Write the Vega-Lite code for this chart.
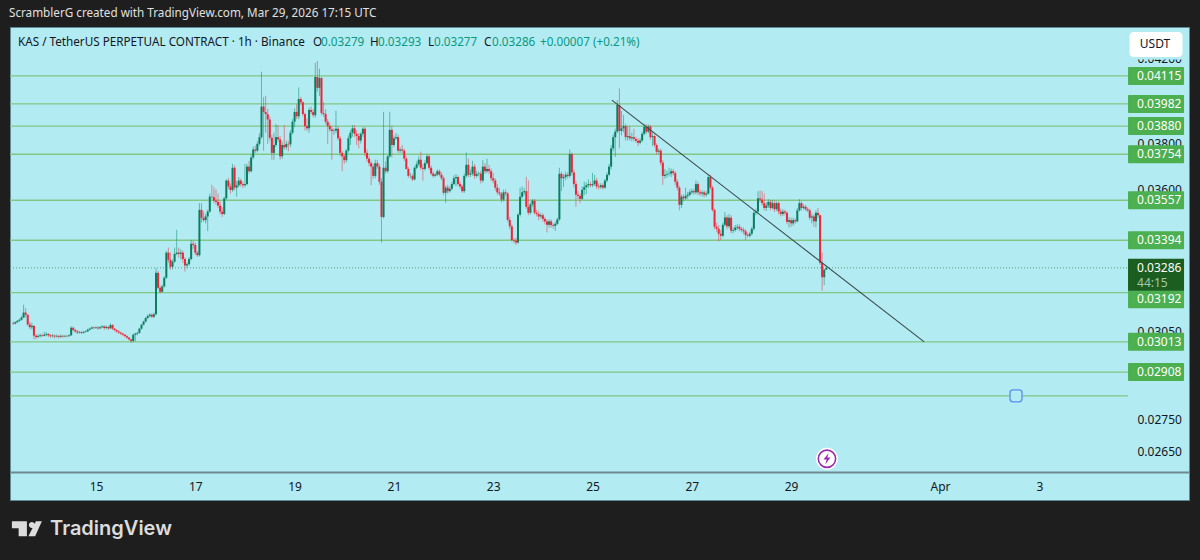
{
  "$schema": "https://vega.github.io/schema/vega-lite/v6.json",
  "description": "KAS / TetherUS perpetual contract, 1h candles with horizontal levels and a trendline",
  "width": 1179,
  "height": 473,
  "autosize": {"type": "none"},
  "padding": {"left": 10, "top": 27, "right": 11, "bottom": 60},
  "background": "#1e1e1e",
  "config": {"font": "Noto Sans", "view": {"fill": "#b2ebf2", "stroke": "#5f8a92"}},
  "title": {
    "text": "ScramblerG created with TradingView.com, Mar 29, 2026 17:15 UTC",
    "anchor": "start", "frame": "group", "color": "#e0e0e0", "fontSize": 11.7, "fontWeight": "normal", "offset": 7, "dx": -1
  },
  "datasets": {
    "candles": [
      {"t":"2026-03-13T08:00Z","o":0.0308,"h":0.03086,"l":0.03073,"c":0.03078},
      {"t":"2026-03-13T09:00Z","o":0.03078,"h":0.03086,"l":0.03075,"c":0.03083},
      {"t":"2026-03-13T10:00Z","o":0.03083,"h":0.03091,"l":0.03081,"c":0.03088},
      {"t":"2026-03-13T11:00Z","o":0.03088,"h":0.03096,"l":0.03085,"c":0.03092},
      {"t":"2026-03-13T12:00Z","o":0.03092,"h":0.03106,"l":0.03089,"c":0.031},
      {"t":"2026-03-13T13:00Z","o":0.031,"h":0.03147,"l":0.03098,"c":0.03118},
      {"t":"2026-03-13T14:00Z","o":0.03118,"h":0.03135,"l":0.031,"c":0.0311},
      {"t":"2026-03-13T15:00Z","o":0.0311,"h":0.03112,"l":0.0307,"c":0.03075},
      {"t":"2026-03-13T16:00Z","o":0.03075,"h":0.03085,"l":0.03058,"c":0.03065},
      {"t":"2026-03-13T17:00Z","o":0.03065,"h":0.03082,"l":0.03056,"c":0.0307},
      {"t":"2026-03-13T18:00Z","o":0.0307,"h":0.03072,"l":0.03022,"c":0.03035},
      {"t":"2026-03-13T19:00Z","o":0.03035,"h":0.0304,"l":0.03022,"c":0.0303},
      {"t":"2026-03-13T20:00Z","o":0.0303,"h":0.0304,"l":0.03026,"c":0.03033},
      {"t":"2026-03-13T21:00Z","o":0.03033,"h":0.03042,"l":0.03028,"c":0.03036},
      {"t":"2026-03-13T22:00Z","o":0.03036,"h":0.03042,"l":0.0303,"c":0.03034},
      {"t":"2026-03-13T23:00Z","o":0.03034,"h":0.03049,"l":0.03032,"c":0.03038},
      {"t":"2026-03-14T00:00Z","o":0.03038,"h":0.03048,"l":0.03033,"c":0.03041},
      {"t":"2026-03-14T01:00Z","o":0.03041,"h":0.03044,"l":0.0303,"c":0.03036},
      {"t":"2026-03-14T02:00Z","o":0.03036,"h":0.0304,"l":0.03026,"c":0.03033},
      {"t":"2026-03-14T03:00Z","o":0.03033,"h":0.03041,"l":0.03028,"c":0.03035},
      {"t":"2026-03-14T04:00Z","o":0.03035,"h":0.03039,"l":0.03025,"c":0.03032},
      {"t":"2026-03-14T05:00Z","o":0.03032,"h":0.03039,"l":0.03028,"c":0.03034},
      {"t":"2026-03-14T06:00Z","o":0.03034,"h":0.03038,"l":0.03024,"c":0.03031},
      {"t":"2026-03-14T07:00Z","o":0.03031,"h":0.03039,"l":0.03028,"c":0.03034},
      {"t":"2026-03-14T08:00Z","o":0.03034,"h":0.03038,"l":0.03027,"c":0.03032},
      {"t":"2026-03-14T09:00Z","o":0.03032,"h":0.03038,"l":0.03029,"c":0.03034},
      {"t":"2026-03-14T10:00Z","o":0.03034,"h":0.03037,"l":0.03029,"c":0.03033},
      {"t":"2026-03-14T11:00Z","o":0.03033,"h":0.0304,"l":0.0303,"c":0.03036},
      {"t":"2026-03-14T12:00Z","o":0.03036,"h":0.03069,"l":0.03034,"c":0.03063},
      {"t":"2026-03-14T13:00Z","o":0.03063,"h":0.03067,"l":0.0305,"c":0.03055},
      {"t":"2026-03-14T14:00Z","o":0.03055,"h":0.03059,"l":0.03045,"c":0.0305},
      {"t":"2026-03-14T15:00Z","o":0.0305,"h":0.03055,"l":0.0304,"c":0.03046},
      {"t":"2026-03-14T16:00Z","o":0.03046,"h":0.03052,"l":0.03042,"c":0.03048},
      {"t":"2026-03-14T17:00Z","o":0.03048,"h":0.03051,"l":0.03041,"c":0.03045},
      {"t":"2026-03-14T18:00Z","o":0.03045,"h":0.03052,"l":0.03042,"c":0.03048},
      {"t":"2026-03-14T19:00Z","o":0.03048,"h":0.03054,"l":0.03045,"c":0.0305},
      {"t":"2026-03-14T20:00Z","o":0.0305,"h":0.0306,"l":0.03048,"c":0.03056},
      {"t":"2026-03-14T21:00Z","o":0.03056,"h":0.03064,"l":0.03053,"c":0.0306},
      {"t":"2026-03-14T22:00Z","o":0.0306,"h":0.03068,"l":0.03058,"c":0.03064},
      {"t":"2026-03-14T23:00Z","o":0.03064,"h":0.03067,"l":0.03058,"c":0.03062},
      {"t":"2026-03-15T00:00Z","o":0.03062,"h":0.03068,"l":0.03059,"c":0.03064},
      {"t":"2026-03-15T01:00Z","o":0.03064,"h":0.03069,"l":0.03056,"c":0.03061},
      {"t":"2026-03-15T02:00Z","o":0.03061,"h":0.03069,"l":0.03058,"c":0.03065},
      {"t":"2026-03-15T03:00Z","o":0.03065,"h":0.03073,"l":0.03062,"c":0.03068},
      {"t":"2026-03-15T04:00Z","o":0.03068,"h":0.03072,"l":0.03056,"c":0.03062},
      {"t":"2026-03-15T05:00Z","o":0.03062,"h":0.03071,"l":0.03058,"c":0.03066},
      {"t":"2026-03-15T06:00Z","o":0.03066,"h":0.03069,"l":0.03055,"c":0.03061},
      {"t":"2026-03-15T07:00Z","o":0.03061,"h":0.03079,"l":0.03059,"c":0.03073},
      {"t":"2026-03-15T08:00Z","o":0.03073,"h":0.03076,"l":0.03055,"c":0.0306},
      {"t":"2026-03-15T09:00Z","o":0.0306,"h":0.03063,"l":0.0305,"c":0.03055},
      {"t":"2026-03-15T10:00Z","o":0.03055,"h":0.03058,"l":0.03045,"c":0.0305},
      {"t":"2026-03-15T11:00Z","o":0.0305,"h":0.03054,"l":0.03041,"c":0.03046},
      {"t":"2026-03-15T12:00Z","o":0.03046,"h":0.03049,"l":0.03037,"c":0.03042},
      {"t":"2026-03-15T13:00Z","o":0.03042,"h":0.03045,"l":0.03033,"c":0.03038},
      {"t":"2026-03-15T14:00Z","o":0.03038,"h":0.03041,"l":0.03029,"c":0.03033},
      {"t":"2026-03-15T15:00Z","o":0.03033,"h":0.03036,"l":0.03023,"c":0.03028},
      {"t":"2026-03-15T16:00Z","o":0.03028,"h":0.0303,"l":0.03017,"c":0.03022},
      {"t":"2026-03-15T17:00Z","o":0.03022,"h":0.03024,"l":0.03009,"c":0.03016},
      {"t":"2026-03-15T18:00Z","o":0.03016,"h":0.03042,"l":0.03011,"c":0.03038},
      {"t":"2026-03-15T19:00Z","o":0.03038,"h":0.03046,"l":0.03015,"c":0.03042},
      {"t":"2026-03-15T20:00Z","o":0.03042,"h":0.03048,"l":0.03036,"c":0.03045},
      {"t":"2026-03-15T21:00Z","o":0.03045,"h":0.03063,"l":0.03042,"c":0.0306},
      {"t":"2026-03-15T22:00Z","o":0.0306,"h":0.03077,"l":0.03056,"c":0.03074},
      {"t":"2026-03-15T23:00Z","o":0.03074,"h":0.03089,"l":0.03071,"c":0.03085},
      {"t":"2026-03-16T00:00Z","o":0.03085,"h":0.03102,"l":0.03082,"c":0.03098},
      {"t":"2026-03-16T01:00Z","o":0.03098,"h":0.03112,"l":0.03094,"c":0.03105},
      {"t":"2026-03-16T02:00Z","o":0.03105,"h":0.03116,"l":0.03101,"c":0.0311},
      {"t":"2026-03-16T03:00Z","o":0.0311,"h":0.03116,"l":0.03098,"c":0.03103},
      {"t":"2026-03-16T04:00Z","o":0.03103,"h":0.03118,"l":0.03098,"c":0.03112},
      {"t":"2026-03-16T05:00Z","o":0.03112,"h":0.03285,"l":0.03108,"c":0.03267},
      {"t":"2026-03-16T06:00Z","o":0.03267,"h":0.03275,"l":0.03205,"c":0.0321},
      {"t":"2026-03-16T07:00Z","o":0.0321,"h":0.03218,"l":0.03188,"c":0.03195},
      {"t":"2026-03-16T08:00Z","o":0.03195,"h":0.03222,"l":0.03192,"c":0.03215},
      {"t":"2026-03-16T09:00Z","o":0.03215,"h":0.03254,"l":0.03211,"c":0.03248},
      {"t":"2026-03-16T10:00Z","o":0.03248,"h":0.03352,"l":0.03244,"c":0.03345},
      {"t":"2026-03-16T11:00Z","o":0.03345,"h":0.03365,"l":0.03305,"c":0.03317},
      {"t":"2026-03-16T12:00Z","o":0.03317,"h":0.03345,"l":0.03278,"c":0.0329},
      {"t":"2026-03-16T13:00Z","o":0.0329,"h":0.03318,"l":0.0328,"c":0.0331},
      {"t":"2026-03-16T14:00Z","o":0.0331,"h":0.03365,"l":0.03305,"c":0.0334},
      {"t":"2026-03-16T15:00Z","o":0.0334,"h":0.03436,"l":0.03335,"c":0.03345},
      {"t":"2026-03-16T16:00Z","o":0.03345,"h":0.03365,"l":0.03325,"c":0.0334},
      {"t":"2026-03-16T17:00Z","o":0.0334,"h":0.03358,"l":0.03318,"c":0.03345},
      {"t":"2026-03-16T18:00Z","o":0.03345,"h":0.03352,"l":0.03305,"c":0.0332},
      {"t":"2026-03-16T19:00Z","o":0.0332,"h":0.03328,"l":0.03272,"c":0.03295},
      {"t":"2026-03-16T20:00Z","o":0.03295,"h":0.03308,"l":0.03285,"c":0.033},
      {"t":"2026-03-16T21:00Z","o":0.033,"h":0.03328,"l":0.03295,"c":0.0332},
      {"t":"2026-03-16T22:00Z","o":0.0332,"h":0.03395,"l":0.03315,"c":0.0338},
      {"t":"2026-03-16T23:00Z","o":0.0338,"h":0.03392,"l":0.0336,"c":0.03375},
      {"t":"2026-03-17T00:00Z","o":0.03375,"h":0.03385,"l":0.03335,"c":0.03345},
      {"t":"2026-03-17T01:00Z","o":0.03345,"h":0.03352,"l":0.03328,"c":0.03335},
      {"t":"2026-03-17T02:00Z","o":0.03335,"h":0.03545,"l":0.0333,"c":0.03517},
      {"t":"2026-03-17T03:00Z","o":0.03517,"h":0.03545,"l":0.03465,"c":0.03484},
      {"t":"2026-03-17T04:00Z","o":0.03484,"h":0.0351,"l":0.03468,"c":0.03475},
      {"t":"2026-03-17T05:00Z","o":0.03475,"h":0.035,"l":0.03462,"c":0.0349},
      {"t":"2026-03-17T06:00Z","o":0.0349,"h":0.03518,"l":0.0343,"c":0.0351},
      {"t":"2026-03-17T07:00Z","o":0.0351,"h":0.03585,"l":0.03505,"c":0.03572},
      {"t":"2026-03-17T08:00Z","o":0.03572,"h":0.03622,"l":0.03562,"c":0.0357},
      {"t":"2026-03-17T09:00Z","o":0.0357,"h":0.03612,"l":0.03545,"c":0.03555},
      {"t":"2026-03-17T10:00Z","o":0.03555,"h":0.03602,"l":0.03538,"c":0.0355},
      {"t":"2026-03-17T11:00Z","o":0.0355,"h":0.03585,"l":0.03525,"c":0.03535},
      {"t":"2026-03-17T12:00Z","o":0.03535,"h":0.03552,"l":0.03498,"c":0.0351},
      {"t":"2026-03-17T13:00Z","o":0.0351,"h":0.03528,"l":0.03488,"c":0.035},
      {"t":"2026-03-17T14:00Z","o":0.035,"h":0.03572,"l":0.03495,"c":0.03565},
      {"t":"2026-03-17T15:00Z","o":0.03565,"h":0.03645,"l":0.03558,"c":0.0364},
      {"t":"2026-03-17T16:00Z","o":0.0364,"h":0.03652,"l":0.03605,"c":0.03615},
      {"t":"2026-03-17T17:00Z","o":0.03615,"h":0.03628,"l":0.03585,"c":0.036},
      {"t":"2026-03-17T18:00Z","o":0.036,"h":0.03712,"l":0.03592,"c":0.03695},
      {"t":"2026-03-17T19:00Z","o":0.03695,"h":0.03705,"l":0.03598,"c":0.0361},
      {"t":"2026-03-17T20:00Z","o":0.0361,"h":0.03638,"l":0.03572,"c":0.0362},
      {"t":"2026-03-17T21:00Z","o":0.0362,"h":0.03655,"l":0.03612,"c":0.0364},
      {"t":"2026-03-17T22:00Z","o":0.0364,"h":0.03648,"l":0.03615,"c":0.03625},
      {"t":"2026-03-17T23:00Z","o":0.03625,"h":0.03635,"l":0.03608,"c":0.0362},
      {"t":"2026-03-18T00:00Z","o":0.0362,"h":0.03712,"l":0.03612,"c":0.03625},
      {"t":"2026-03-18T01:00Z","o":0.03625,"h":0.03712,"l":0.0362,"c":0.037},
      {"t":"2026-03-18T02:00Z","o":0.037,"h":0.03725,"l":0.0367,"c":0.0368},
      {"t":"2026-03-18T03:00Z","o":0.0368,"h":0.03752,"l":0.03675,"c":0.0374},
      {"t":"2026-03-18T04:00Z","o":0.0374,"h":0.03788,"l":0.03732,"c":0.03775},
      {"t":"2026-03-18T05:00Z","o":0.03775,"h":0.03792,"l":0.0376,"c":0.0377},
      {"t":"2026-03-18T06:00Z","o":0.0377,"h":0.03812,"l":0.03762,"c":0.038},
      {"t":"2026-03-18T07:00Z","o":0.038,"h":0.03848,"l":0.03792,"c":0.0383},
      {"t":"2026-03-18T08:00Z","o":0.0383,"h":0.04135,"l":0.03822,"c":0.0397},
      {"t":"2026-03-18T09:00Z","o":0.0397,"h":0.04015,"l":0.0377,"c":0.03945},
      {"t":"2026-03-18T10:00Z","o":0.03945,"h":0.0402,"l":0.0385,"c":0.03935},
      {"t":"2026-03-18T11:00Z","o":0.03935,"h":0.0396,"l":0.038,"c":0.0391},
      {"t":"2026-03-18T12:00Z","o":0.0391,"h":0.03925,"l":0.03815,"c":0.03827},
      {"t":"2026-03-18T13:00Z","o":0.03827,"h":0.0384,"l":0.0373,"c":0.0376},
      {"t":"2026-03-18T14:00Z","o":0.0376,"h":0.0385,"l":0.0373,"c":0.03795},
      {"t":"2026-03-18T15:00Z","o":0.03795,"h":0.0389,"l":0.03785,"c":0.0383},
      {"t":"2026-03-18T16:00Z","o":0.0383,"h":0.03885,"l":0.03808,"c":0.0382},
      {"t":"2026-03-18T17:00Z","o":0.0382,"h":0.03835,"l":0.0373,"c":0.03745},
      {"t":"2026-03-18T18:00Z","o":0.03745,"h":0.0381,"l":0.03735,"c":0.03795},
      {"t":"2026-03-18T19:00Z","o":0.03795,"h":0.03885,"l":0.03775,"c":0.03785},
      {"t":"2026-03-18T20:00Z","o":0.03785,"h":0.03815,"l":0.03775,"c":0.038},
      {"t":"2026-03-18T21:00Z","o":0.038,"h":0.03812,"l":0.03768,"c":0.03798},
      {"t":"2026-03-18T22:00Z","o":0.03798,"h":0.03862,"l":0.03785,"c":0.0385},
      {"t":"2026-03-18T23:00Z","o":0.0385,"h":0.03912,"l":0.03842,"c":0.039},
      {"t":"2026-03-19T00:00Z","o":0.039,"h":0.03962,"l":0.03875,"c":0.03945},
      {"t":"2026-03-19T01:00Z","o":0.03945,"h":0.0398,"l":0.03912,"c":0.03925},
      {"t":"2026-03-19T02:00Z","o":0.03925,"h":0.0406,"l":0.03912,"c":0.04005},
      {"t":"2026-03-19T03:00Z","o":0.04005,"h":0.04015,"l":0.03978,"c":0.0399},
      {"t":"2026-03-19T04:00Z","o":0.0399,"h":0.03995,"l":0.03925,"c":0.03935},
      {"t":"2026-03-19T05:00Z","o":0.03935,"h":0.03942,"l":0.0386,"c":0.0388},
      {"t":"2026-03-19T06:00Z","o":0.0388,"h":0.03915,"l":0.03858,"c":0.0387},
      {"t":"2026-03-19T07:00Z","o":0.0387,"h":0.03965,"l":0.0385,"c":0.03954},
      {"t":"2026-03-19T08:00Z","o":0.03954,"h":0.0397,"l":0.03935,"c":0.03945},
      {"t":"2026-03-19T09:00Z","o":0.03945,"h":0.03958,"l":0.0392,"c":0.0393},
      {"t":"2026-03-19T10:00Z","o":0.0393,"h":0.04178,"l":0.03918,"c":0.0411},
      {"t":"2026-03-19T11:00Z","o":0.0411,"h":0.04188,"l":0.0404,"c":0.04058},
      {"t":"2026-03-19T12:00Z","o":0.04058,"h":0.0415,"l":0.0402,"c":0.04105},
      {"t":"2026-03-19T13:00Z","o":0.04105,"h":0.0411,"l":0.0393,"c":0.0394},
      {"t":"2026-03-19T14:00Z","o":0.0394,"h":0.0399,"l":0.03922,"c":0.03935},
      {"t":"2026-03-19T15:00Z","o":0.03935,"h":0.03958,"l":0.03888,"c":0.039},
      {"t":"2026-03-19T16:00Z","o":0.039,"h":0.03912,"l":0.038,"c":0.0388},
      {"t":"2026-03-19T17:00Z","o":0.0388,"h":0.03895,"l":0.03855,"c":0.03865},
      {"t":"2026-03-19T18:00Z","o":0.03865,"h":0.0388,"l":0.0373,"c":0.03858},
      {"t":"2026-03-19T19:00Z","o":0.03858,"h":0.0387,"l":0.0384,"c":0.0386},
      {"t":"2026-03-19T20:00Z","o":0.0386,"h":0.0395,"l":0.03848,"c":0.03868},
      {"t":"2026-03-19T21:00Z","o":0.03868,"h":0.03878,"l":0.03815,"c":0.03825},
      {"t":"2026-03-19T22:00Z","o":0.03825,"h":0.03835,"l":0.03745,"c":0.0376},
      {"t":"2026-03-19T23:00Z","o":0.0376,"h":0.03768,"l":0.0368,"c":0.03745},
      {"t":"2026-03-20T00:00Z","o":0.03745,"h":0.03755,"l":0.03712,"c":0.03728},
      {"t":"2026-03-20T01:00Z","o":0.03728,"h":0.03778,"l":0.03718,"c":0.0377},
      {"t":"2026-03-20T02:00Z","o":0.0377,"h":0.03838,"l":0.03762,"c":0.03825},
      {"t":"2026-03-20T03:00Z","o":0.03825,"h":0.03862,"l":0.03795,"c":0.0385},
      {"t":"2026-03-20T04:00Z","o":0.0385,"h":0.03885,"l":0.03832,"c":0.0387},
      {"t":"2026-03-20T05:00Z","o":0.0387,"h":0.03885,"l":0.0383,"c":0.03845},
      {"t":"2026-03-20T06:00Z","o":0.03845,"h":0.03862,"l":0.03795,"c":0.03835},
      {"t":"2026-03-20T07:00Z","o":0.03835,"h":0.03848,"l":0.0378,"c":0.03815},
      {"t":"2026-03-20T08:00Z","o":0.03815,"h":0.03852,"l":0.03802,"c":0.03845},
      {"t":"2026-03-20T09:00Z","o":0.03845,"h":0.03875,"l":0.03832,"c":0.03868},
      {"t":"2026-03-20T10:00Z","o":0.03868,"h":0.03875,"l":0.03745,"c":0.0376},
      {"t":"2026-03-20T11:00Z","o":0.0376,"h":0.03775,"l":0.0372,"c":0.03735},
      {"t":"2026-03-20T12:00Z","o":0.03735,"h":0.03748,"l":0.03702,"c":0.03715},
      {"t":"2026-03-20T13:00Z","o":0.03715,"h":0.03725,"l":0.0362,"c":0.037},
      {"t":"2026-03-20T14:00Z","o":0.037,"h":0.03712,"l":0.03648,"c":0.0366},
      {"t":"2026-03-20T15:00Z","o":0.0366,"h":0.0373,"l":0.0365,"c":0.03715},
      {"t":"2026-03-20T16:00Z","o":0.03715,"h":0.03728,"l":0.0369,"c":0.037},
      {"t":"2026-03-20T17:00Z","o":0.037,"h":0.03712,"l":0.03622,"c":0.03635},
      {"t":"2026-03-20T18:00Z","o":0.03635,"h":0.0365,"l":0.03384,"c":0.03488},
      {"t":"2026-03-20T19:00Z","o":0.03488,"h":0.03945,"l":0.03482,"c":0.03695},
      {"t":"2026-03-20T20:00Z","o":0.03695,"h":0.03722,"l":0.0367,"c":0.0368},
      {"t":"2026-03-20T21:00Z","o":0.0368,"h":0.0375,"l":0.03672,"c":0.03745},
      {"t":"2026-03-20T22:00Z","o":0.03745,"h":0.03945,"l":0.03738,"c":0.03863},
      {"t":"2026-03-20T23:00Z","o":0.03863,"h":0.0388,"l":0.0374,"c":0.03795},
      {"t":"2026-03-21T00:00Z","o":0.03795,"h":0.03838,"l":0.03785,"c":0.03825},
      {"t":"2026-03-21T01:00Z","o":0.03825,"h":0.03848,"l":0.03818,"c":0.0383},
      {"t":"2026-03-21T02:00Z","o":0.0383,"h":0.03842,"l":0.0376,"c":0.0377},
      {"t":"2026-03-21T03:00Z","o":0.0377,"h":0.03785,"l":0.0376,"c":0.03775},
      {"t":"2026-03-21T04:00Z","o":0.03775,"h":0.03795,"l":0.03758,"c":0.0377},
      {"t":"2026-03-21T05:00Z","o":0.0377,"h":0.03778,"l":0.03725,"c":0.03735},
      {"t":"2026-03-21T06:00Z","o":0.03735,"h":0.03745,"l":0.03688,"c":0.0369},
      {"t":"2026-03-21T07:00Z","o":0.0369,"h":0.03698,"l":0.03652,"c":0.0366},
      {"t":"2026-03-21T08:00Z","o":0.0366,"h":0.03672,"l":0.0365,"c":0.0366},
      {"t":"2026-03-21T09:00Z","o":0.0366,"h":0.03668,"l":0.03638,"c":0.03645},
      {"t":"2026-03-21T10:00Z","o":0.03645,"h":0.03702,"l":0.0364,"c":0.03695},
      {"t":"2026-03-21T11:00Z","o":0.03695,"h":0.03722,"l":0.03688,"c":0.0371},
      {"t":"2026-03-21T12:00Z","o":0.0371,"h":0.03745,"l":0.03702,"c":0.0373},
      {"t":"2026-03-21T13:00Z","o":0.0373,"h":0.03765,"l":0.03685,"c":0.03695},
      {"t":"2026-03-21T14:00Z","o":0.03695,"h":0.03712,"l":0.0364,"c":0.0369},
      {"t":"2026-03-21T15:00Z","o":0.0369,"h":0.03728,"l":0.03682,"c":0.03715},
      {"t":"2026-03-21T16:00Z","o":0.03715,"h":0.03755,"l":0.03708,"c":0.03745},
      {"t":"2026-03-21T17:00Z","o":0.03745,"h":0.03752,"l":0.03685,"c":0.03695},
      {"t":"2026-03-21T18:00Z","o":0.03695,"h":0.03705,"l":0.03662,"c":0.0367},
      {"t":"2026-03-21T19:00Z","o":0.0367,"h":0.03678,"l":0.03652,"c":0.0366},
      {"t":"2026-03-21T20:00Z","o":0.0366,"h":0.03672,"l":0.03655,"c":0.03665},
      {"t":"2026-03-21T21:00Z","o":0.03665,"h":0.03688,"l":0.0366,"c":0.0368},
      {"t":"2026-03-21T22:00Z","o":0.0368,"h":0.03688,"l":0.03658,"c":0.03665},
      {"t":"2026-03-21T23:00Z","o":0.03665,"h":0.03675,"l":0.03642,"c":0.0365},
      {"t":"2026-03-22T00:00Z","o":0.0365,"h":0.03658,"l":0.03578,"c":0.03588},
      {"t":"2026-03-22T01:00Z","o":0.03588,"h":0.03618,"l":0.03546,"c":0.0361},
      {"t":"2026-03-22T02:00Z","o":0.0361,"h":0.03622,"l":0.03585,"c":0.03595},
      {"t":"2026-03-22T03:00Z","o":0.03595,"h":0.03615,"l":0.03588,"c":0.03605},
      {"t":"2026-03-22T04:00Z","o":0.03605,"h":0.03635,"l":0.03598,"c":0.03625},
      {"t":"2026-03-22T05:00Z","o":0.03625,"h":0.03662,"l":0.0362,"c":0.0365},
      {"t":"2026-03-22T06:00Z","o":0.0365,"h":0.03668,"l":0.03615,"c":0.03655},
      {"t":"2026-03-22T07:00Z","o":0.03655,"h":0.03662,"l":0.03618,"c":0.03625},
      {"t":"2026-03-22T08:00Z","o":0.03625,"h":0.03635,"l":0.03605,"c":0.03615},
      {"t":"2026-03-22T09:00Z","o":0.03615,"h":0.03622,"l":0.03588,"c":0.03595},
      {"t":"2026-03-22T10:00Z","o":0.03595,"h":0.0367,"l":0.03588,"c":0.0366},
      {"t":"2026-03-22T11:00Z","o":0.0366,"h":0.03762,"l":0.03652,"c":0.03708},
      {"t":"2026-03-22T12:00Z","o":0.03708,"h":0.03735,"l":0.03655,"c":0.03665},
      {"t":"2026-03-22T13:00Z","o":0.03665,"h":0.03688,"l":0.03655,"c":0.0367},
      {"t":"2026-03-22T14:00Z","o":0.0367,"h":0.03725,"l":0.03662,"c":0.037},
      {"t":"2026-03-22T15:00Z","o":0.037,"h":0.03712,"l":0.03648,"c":0.0366},
      {"t":"2026-03-22T16:00Z","o":0.0366,"h":0.03682,"l":0.03652,"c":0.03668},
      {"t":"2026-03-22T17:00Z","o":0.03668,"h":0.03678,"l":0.03658,"c":0.0367},
      {"t":"2026-03-22T18:00Z","o":0.0367,"h":0.03682,"l":0.03628,"c":0.0364},
      {"t":"2026-03-22T19:00Z","o":0.0364,"h":0.03728,"l":0.03632,"c":0.037},
      {"t":"2026-03-22T20:00Z","o":0.037,"h":0.03715,"l":0.03668,"c":0.0368},
      {"t":"2026-03-22T21:00Z","o":0.0368,"h":0.03735,"l":0.03672,"c":0.0369},
      {"t":"2026-03-22T22:00Z","o":0.0369,"h":0.03708,"l":0.03668,"c":0.0368},
      {"t":"2026-03-22T23:00Z","o":0.0368,"h":0.03692,"l":0.03638,"c":0.0365},
      {"t":"2026-03-23T00:00Z","o":0.0365,"h":0.03672,"l":0.03628,"c":0.0364},
      {"t":"2026-03-23T01:00Z","o":0.0364,"h":0.0365,"l":0.03598,"c":0.0361},
      {"t":"2026-03-23T02:00Z","o":0.0361,"h":0.03625,"l":0.0358,"c":0.0359},
      {"t":"2026-03-23T03:00Z","o":0.0359,"h":0.03608,"l":0.03575,"c":0.03585},
      {"t":"2026-03-23T04:00Z","o":0.03585,"h":0.03592,"l":0.03548,"c":0.0356},
      {"t":"2026-03-23T05:00Z","o":0.0356,"h":0.03602,"l":0.03552,"c":0.0359},
      {"t":"2026-03-23T06:00Z","o":0.0359,"h":0.03602,"l":0.03575,"c":0.03585},
      {"t":"2026-03-23T07:00Z","o":0.03585,"h":0.03592,"l":0.03468,"c":0.03476},
      {"t":"2026-03-23T08:00Z","o":0.03476,"h":0.03488,"l":0.03438,"c":0.0345},
      {"t":"2026-03-23T09:00Z","o":0.0345,"h":0.03458,"l":0.03388,"c":0.03395},
      {"t":"2026-03-23T10:00Z","o":0.03395,"h":0.03402,"l":0.03382,"c":0.03392},
      {"t":"2026-03-23T11:00Z","o":0.03392,"h":0.03405,"l":0.03375,"c":0.03385},
      {"t":"2026-03-23T12:00Z","o":0.03385,"h":0.03505,"l":0.0338,"c":0.03497},
      {"t":"2026-03-23T13:00Z","o":0.03497,"h":0.0361,"l":0.0349,"c":0.03572},
      {"t":"2026-03-23T14:00Z","o":0.03572,"h":0.03615,"l":0.03565,"c":0.0359},
      {"t":"2026-03-23T15:00Z","o":0.0359,"h":0.03608,"l":0.03578,"c":0.03595},
      {"t":"2026-03-23T16:00Z","o":0.03595,"h":0.03656,"l":0.03522,"c":0.0353},
      {"t":"2026-03-23T17:00Z","o":0.0353,"h":0.0364,"l":0.03495,"c":0.03505},
      {"t":"2026-03-23T18:00Z","o":0.03505,"h":0.03548,"l":0.03498,"c":0.0354},
      {"t":"2026-03-23T19:00Z","o":0.0354,"h":0.03562,"l":0.0353,"c":0.03555},
      {"t":"2026-03-23T20:00Z","o":0.03555,"h":0.03562,"l":0.03498,"c":0.03505},
      {"t":"2026-03-23T21:00Z","o":0.03505,"h":0.03518,"l":0.0349,"c":0.035},
      {"t":"2026-03-23T22:00Z","o":0.035,"h":0.03512,"l":0.03475,"c":0.0349},
      {"t":"2026-03-23T23:00Z","o":0.0349,"h":0.03505,"l":0.03482,"c":0.03495},
      {"t":"2026-03-24T00:00Z","o":0.03495,"h":0.03502,"l":0.03468,"c":0.0348},
      {"t":"2026-03-24T01:00Z","o":0.0348,"h":0.03488,"l":0.03458,"c":0.0347},
      {"t":"2026-03-24T02:00Z","o":0.0347,"h":0.03478,"l":0.03425,"c":0.03456},
      {"t":"2026-03-24T03:00Z","o":0.03456,"h":0.03478,"l":0.03445,"c":0.0347},
      {"t":"2026-03-24T04:00Z","o":0.0347,"h":0.03478,"l":0.03445,"c":0.03455},
      {"t":"2026-03-24T05:00Z","o":0.03455,"h":0.03462,"l":0.0344,"c":0.03452},
      {"t":"2026-03-24T06:00Z","o":0.03452,"h":0.03468,"l":0.03432,"c":0.0346},
      {"t":"2026-03-24T07:00Z","o":0.0346,"h":0.03485,"l":0.03455,"c":0.03478},
      {"t":"2026-03-24T08:00Z","o":0.03478,"h":0.03695,"l":0.03472,"c":0.03669},
      {"t":"2026-03-24T09:00Z","o":0.03669,"h":0.03678,"l":0.03595,"c":0.0365},
      {"t":"2026-03-24T10:00Z","o":0.0365,"h":0.03668,"l":0.03612,"c":0.03655},
      {"t":"2026-03-24T11:00Z","o":0.03655,"h":0.03678,"l":0.03642,"c":0.03665},
      {"t":"2026-03-24T12:00Z","o":0.03665,"h":0.03675,"l":0.03648,"c":0.0366},
      {"t":"2026-03-24T13:00Z","o":0.0366,"h":0.03775,"l":0.03652,"c":0.03755},
      {"t":"2026-03-24T14:00Z","o":0.03755,"h":0.03762,"l":0.03662,"c":0.03675},
      {"t":"2026-03-24T15:00Z","o":0.03675,"h":0.03688,"l":0.0361,"c":0.03625},
      {"t":"2026-03-24T16:00Z","o":0.03625,"h":0.03638,"l":0.0353,"c":0.0358},
      {"t":"2026-03-24T17:00Z","o":0.0358,"h":0.03595,"l":0.03562,"c":0.03575},
      {"t":"2026-03-24T18:00Z","o":0.03575,"h":0.03585,"l":0.03545,"c":0.03563},
      {"t":"2026-03-24T19:00Z","o":0.03563,"h":0.03615,"l":0.03558,"c":0.03601},
      {"t":"2026-03-24T20:00Z","o":0.03601,"h":0.03635,"l":0.03578,"c":0.03612},
      {"t":"2026-03-24T21:00Z","o":0.03612,"h":0.03632,"l":0.03582,"c":0.0362},
      {"t":"2026-03-24T22:00Z","o":0.0362,"h":0.03645,"l":0.03608,"c":0.03625},
      {"t":"2026-03-24T23:00Z","o":0.03625,"h":0.03635,"l":0.03612,"c":0.0362},
      {"t":"2026-03-25T00:00Z","o":0.0362,"h":0.03673,"l":0.03612,"c":0.03625},
      {"t":"2026-03-25T01:00Z","o":0.03625,"h":0.03665,"l":0.03618,"c":0.0364},
      {"t":"2026-03-25T02:00Z","o":0.0364,"h":0.03652,"l":0.03605,"c":0.03615},
      {"t":"2026-03-25T03:00Z","o":0.03615,"h":0.03628,"l":0.03602,"c":0.03612},
      {"t":"2026-03-25T04:00Z","o":0.03612,"h":0.03628,"l":0.03605,"c":0.0362},
      {"t":"2026-03-25T05:00Z","o":0.0362,"h":0.03628,"l":0.03602,"c":0.0361},
      {"t":"2026-03-25T06:00Z","o":0.0361,"h":0.03648,"l":0.03605,"c":0.0364},
      {"t":"2026-03-25T07:00Z","o":0.0364,"h":0.03675,"l":0.03632,"c":0.03665},
      {"t":"2026-03-25T08:00Z","o":0.03665,"h":0.03712,"l":0.03658,"c":0.037},
      {"t":"2026-03-25T09:00Z","o":0.037,"h":0.03795,"l":0.03688,"c":0.0378},
      {"t":"2026-03-25T10:00Z","o":0.0378,"h":0.03842,"l":0.03768,"c":0.0383},
      {"t":"2026-03-25T11:00Z","o":0.0383,"h":0.03868,"l":0.03742,"c":0.03855},
      {"t":"2026-03-25T12:00Z","o":0.03855,"h":0.04,"l":0.03848,"c":0.03977},
      {"t":"2026-03-25T13:00Z","o":0.03977,"h":0.04055,"l":0.0378,"c":0.03858},
      {"t":"2026-03-25T14:00Z","o":0.03858,"h":0.0395,"l":0.03838,"c":0.0387},
      {"t":"2026-03-25T15:00Z","o":0.0387,"h":0.03931,"l":0.03852,"c":0.0388},
      {"t":"2026-03-25T16:00Z","o":0.0388,"h":0.0389,"l":0.03815,"c":0.0383},
      {"t":"2026-03-25T17:00Z","o":0.0383,"h":0.0388,"l":0.03815,"c":0.03835},
      {"t":"2026-03-25T18:00Z","o":0.03835,"h":0.0388,"l":0.03815,"c":0.03825},
      {"t":"2026-03-25T19:00Z","o":0.03825,"h":0.0385,"l":0.03812,"c":0.0383},
      {"t":"2026-03-25T20:00Z","o":0.0383,"h":0.03868,"l":0.03812,"c":0.03822},
      {"t":"2026-03-25T21:00Z","o":0.03822,"h":0.03832,"l":0.03805,"c":0.03814},
      {"t":"2026-03-25T22:00Z","o":0.03814,"h":0.03825,"l":0.0379,"c":0.03805},
      {"t":"2026-03-25T23:00Z","o":0.03805,"h":0.03825,"l":0.03798,"c":0.03815},
      {"t":"2026-03-26T00:00Z","o":0.03815,"h":0.03855,"l":0.03808,"c":0.03845},
      {"t":"2026-03-26T01:00Z","o":0.03845,"h":0.0389,"l":0.03838,"c":0.03877},
      {"t":"2026-03-26T02:00Z","o":0.03877,"h":0.03888,"l":0.03845,"c":0.03855},
      {"t":"2026-03-26T03:00Z","o":0.03855,"h":0.03888,"l":0.03848,"c":0.03878},
      {"t":"2026-03-26T04:00Z","o":0.03878,"h":0.03885,"l":0.03818,"c":0.0383},
      {"t":"2026-03-26T05:00Z","o":0.0383,"h":0.03852,"l":0.0379,"c":0.03835},
      {"t":"2026-03-26T06:00Z","o":0.03835,"h":0.03842,"l":0.03785,"c":0.03795},
      {"t":"2026-03-26T07:00Z","o":0.03795,"h":0.03802,"l":0.03752,"c":0.03765},
      {"t":"2026-03-26T08:00Z","o":0.03765,"h":0.0378,"l":0.03755,"c":0.0377},
      {"t":"2026-03-26T09:00Z","o":0.0377,"h":0.03778,"l":0.03705,"c":0.03717},
      {"t":"2026-03-26T10:00Z","o":0.03717,"h":0.03728,"l":0.03622,"c":0.0366},
      {"t":"2026-03-26T11:00Z","o":0.0366,"h":0.0369,"l":0.03648,"c":0.03665},
      {"t":"2026-03-26T12:00Z","o":0.03665,"h":0.03682,"l":0.03652,"c":0.03668},
      {"t":"2026-03-26T13:00Z","o":0.03668,"h":0.03695,"l":0.03658,"c":0.0367},
      {"t":"2026-03-26T14:00Z","o":0.0367,"h":0.03692,"l":0.03655,"c":0.0368},
      {"t":"2026-03-26T15:00Z","o":0.0368,"h":0.0369,"l":0.03662,"c":0.03672},
      {"t":"2026-03-26T16:00Z","o":0.03672,"h":0.0368,"l":0.03622,"c":0.03635},
      {"t":"2026-03-26T17:00Z","o":0.03635,"h":0.03645,"l":0.03598,"c":0.0361},
      {"t":"2026-03-26T18:00Z","o":0.0361,"h":0.03618,"l":0.03515,"c":0.03538},
      {"t":"2026-03-26T19:00Z","o":0.03538,"h":0.0358,"l":0.03525,"c":0.03572},
      {"t":"2026-03-26T20:00Z","o":0.03572,"h":0.03582,"l":0.03552,"c":0.03565},
      {"t":"2026-03-26T21:00Z","o":0.03565,"h":0.0361,"l":0.03558,"c":0.03575},
      {"t":"2026-03-26T22:00Z","o":0.03575,"h":0.03592,"l":0.03562,"c":0.0358},
      {"t":"2026-03-26T23:00Z","o":0.0358,"h":0.03602,"l":0.03572,"c":0.0359},
      {"t":"2026-03-27T00:00Z","o":0.0359,"h":0.03605,"l":0.03582,"c":0.03595},
      {"t":"2026-03-27T01:00Z","o":0.03595,"h":0.03605,"l":0.0358,"c":0.0359},
      {"t":"2026-03-27T02:00Z","o":0.0359,"h":0.0364,"l":0.03582,"c":0.03625},
      {"t":"2026-03-27T03:00Z","o":0.03625,"h":0.03635,"l":0.03578,"c":0.0359},
      {"t":"2026-03-27T04:00Z","o":0.0359,"h":0.03602,"l":0.03575,"c":0.03585},
      {"t":"2026-03-27T05:00Z","o":0.03585,"h":0.03598,"l":0.03572,"c":0.0359},
      {"t":"2026-03-27T06:00Z","o":0.0359,"h":0.03598,"l":0.0357,"c":0.0358},
      {"t":"2026-03-27T07:00Z","o":0.0358,"h":0.03595,"l":0.03572,"c":0.03585},
      {"t":"2026-03-27T08:00Z","o":0.03585,"h":0.03665,"l":0.0358,"c":0.03655},
      {"t":"2026-03-27T09:00Z","o":0.03655,"h":0.03665,"l":0.03602,"c":0.0361},
      {"t":"2026-03-27T10:00Z","o":0.0361,"h":0.03618,"l":0.0351,"c":0.03517},
      {"t":"2026-03-27T11:00Z","o":0.03517,"h":0.03522,"l":0.03438,"c":0.03448},
      {"t":"2026-03-27T12:00Z","o":0.03448,"h":0.03465,"l":0.03428,"c":0.0344},
      {"t":"2026-03-27T13:00Z","o":0.0344,"h":0.03455,"l":0.0339,"c":0.0342},
      {"t":"2026-03-27T14:00Z","o":0.0342,"h":0.03435,"l":0.03395,"c":0.03412},
      {"t":"2026-03-27T15:00Z","o":0.03412,"h":0.03465,"l":0.03405,"c":0.03456},
      {"t":"2026-03-27T16:00Z","o":0.03456,"h":0.03508,"l":0.03448,"c":0.03486},
      {"t":"2026-03-27T17:00Z","o":0.03486,"h":0.03495,"l":0.03438,"c":0.0345},
      {"t":"2026-03-27T18:00Z","o":0.0345,"h":0.035,"l":0.03442,"c":0.03485},
      {"t":"2026-03-27T19:00Z","o":0.03485,"h":0.03495,"l":0.03422,"c":0.03432},
      {"t":"2026-03-27T20:00Z","o":0.03432,"h":0.03445,"l":0.03422,"c":0.03435},
      {"t":"2026-03-27T21:00Z","o":0.03435,"h":0.03455,"l":0.03428,"c":0.03445},
      {"t":"2026-03-27T22:00Z","o":0.03445,"h":0.03458,"l":0.03435,"c":0.03448},
      {"t":"2026-03-27T23:00Z","o":0.03448,"h":0.03458,"l":0.0343,"c":0.0344},
      {"t":"2026-03-28T00:00Z","o":0.0344,"h":0.03448,"l":0.03425,"c":0.03435},
      {"t":"2026-03-28T01:00Z","o":0.03435,"h":0.03445,"l":0.03418,"c":0.0343},
      {"t":"2026-03-28T02:00Z","o":0.0343,"h":0.03438,"l":0.03395,"c":0.03415},
      {"t":"2026-03-28T03:00Z","o":0.03415,"h":0.03425,"l":0.03405,"c":0.03412},
      {"t":"2026-03-28T04:00Z","o":0.03412,"h":0.03428,"l":0.03405,"c":0.0342},
      {"t":"2026-03-28T05:00Z","o":0.0342,"h":0.03448,"l":0.03412,"c":0.0344},
      {"t":"2026-03-28T06:00Z","o":0.0344,"h":0.03515,"l":0.03432,"c":0.03505},
      {"t":"2026-03-28T07:00Z","o":0.03505,"h":0.03522,"l":0.03495,"c":0.0351},
      {"t":"2026-03-28T08:00Z","o":0.0351,"h":0.03595,"l":0.03502,"c":0.03565},
      {"t":"2026-03-28T09:00Z","o":0.03565,"h":0.03598,"l":0.03548,"c":0.0356},
      {"t":"2026-03-28T10:00Z","o":0.0356,"h":0.03595,"l":0.03535,"c":0.03545},
      {"t":"2026-03-28T11:00Z","o":0.03545,"h":0.03585,"l":0.03515,"c":0.03525},
      {"t":"2026-03-28T12:00Z","o":0.03525,"h":0.03548,"l":0.03512,"c":0.03535},
      {"t":"2026-03-28T13:00Z","o":0.03535,"h":0.03562,"l":0.03525,"c":0.0355},
      {"t":"2026-03-28T14:00Z","o":0.0355,"h":0.03558,"l":0.03515,"c":0.03525},
      {"t":"2026-03-28T15:00Z","o":0.03525,"h":0.03558,"l":0.03518,"c":0.03545},
      {"t":"2026-03-28T16:00Z","o":0.03545,"h":0.03555,"l":0.03508,"c":0.0352},
      {"t":"2026-03-28T17:00Z","o":0.0352,"h":0.03552,"l":0.03512,"c":0.03545},
      {"t":"2026-03-28T18:00Z","o":0.03545,"h":0.03552,"l":0.03498,"c":0.0351},
      {"t":"2026-03-28T19:00Z","o":0.0351,"h":0.03522,"l":0.0349,"c":0.035},
      {"t":"2026-03-28T20:00Z","o":0.035,"h":0.0352,"l":0.03492,"c":0.0351},
      {"t":"2026-03-28T21:00Z","o":0.0351,"h":0.03518,"l":0.03495,"c":0.03505},
      {"t":"2026-03-28T22:00Z","o":0.03505,"h":0.03512,"l":0.03458,"c":0.03468},
      {"t":"2026-03-28T23:00Z","o":0.03468,"h":0.03488,"l":0.03445,"c":0.03475},
      {"t":"2026-03-29T00:00Z","o":0.03475,"h":0.03485,"l":0.03448,"c":0.03462},
      {"t":"2026-03-29T01:00Z","o":0.03462,"h":0.03485,"l":0.03452,"c":0.03475},
      {"t":"2026-03-29T02:00Z","o":0.03475,"h":0.03482,"l":0.0346,"c":0.0347},
      {"t":"2026-03-29T03:00Z","o":0.0347,"h":0.03525,"l":0.03465,"c":0.03515},
      {"t":"2026-03-29T04:00Z","o":0.03515,"h":0.03562,"l":0.0351,"c":0.03545},
      {"t":"2026-03-29T05:00Z","o":0.03545,"h":0.03552,"l":0.03515,"c":0.03525},
      {"t":"2026-03-29T06:00Z","o":0.03525,"h":0.0354,"l":0.03518,"c":0.0353},
      {"t":"2026-03-29T07:00Z","o":0.0353,"h":0.03538,"l":0.03512,"c":0.0352},
      {"t":"2026-03-29T08:00Z","o":0.0352,"h":0.03528,"l":0.03508,"c":0.03515},
      {"t":"2026-03-29T09:00Z","o":0.03515,"h":0.03522,"l":0.03475,"c":0.03485},
      {"t":"2026-03-29T10:00Z","o":0.03485,"h":0.03502,"l":0.03462,"c":0.0349},
      {"t":"2026-03-29T11:00Z","o":0.0349,"h":0.03498,"l":0.03448,"c":0.0347},
      {"t":"2026-03-29T12:00Z","o":0.0347,"h":0.03515,"l":0.03445,"c":0.03505},
      {"t":"2026-03-29T13:00Z","o":0.03505,"h":0.03525,"l":0.03482,"c":0.03495},
      {"t":"2026-03-29T14:00Z","o":0.03495,"h":0.03498,"l":0.03298,"c":0.03305},
      {"t":"2026-03-29T15:00Z","o":0.03305,"h":0.03345,"l":0.03199,"c":0.0325},
      {"t":"2026-03-29T16:00Z","o":0.0325,"h":0.03282,"l":0.0322,"c":0.03279},
      {"t":"2026-03-29T17:00Z","o":0.03279,"h":0.03293,"l":0.03277,"c":0.03286}
    ],
    "levels": [
      {"t":"2026-03-13T06:26Z","t2":"2026-04-04T18:50Z","p":0.04115},
      {"t":"2026-03-13T06:26Z","t2":"2026-04-04T18:50Z","p":0.03982},
      {"t":"2026-03-13T06:26Z","t2":"2026-04-04T18:50Z","p":0.0388},
      {"t":"2026-03-13T06:26Z","t2":"2026-04-04T18:50Z","p":0.03754},
      {"t":"2026-03-13T06:26Z","t2":"2026-04-04T18:50Z","p":0.03557},
      {"t":"2026-03-13T06:26Z","t2":"2026-04-04T18:50Z","p":0.03394},
      {"t":"2026-03-13T06:26Z","t2":"2026-04-04T18:50Z","p":0.03192},
      {"t":"2026-03-13T06:26Z","t2":"2026-04-04T18:50Z","p":0.03013},
      {"t":"2026-03-13T06:26Z","t2":"2026-04-04T18:50Z","p":0.02908},
      {"t":"2026-03-13T06:26Z","t2":"2026-04-04T18:50Z","p":0.02828}
    ],
    "tags": [
      {"t":"2026-04-05T08:24Z","p":0.04115,"label":"0.04115"},
      {"t":"2026-04-05T08:24Z","p":0.03982,"label":"0.03982"},
      {"t":"2026-04-05T08:24Z","p":0.0388,"label":"0.03880"},
      {"t":"2026-04-05T08:24Z","p":0.03754,"label":"0.03754"},
      {"t":"2026-04-05T08:24Z","p":0.03557,"label":"0.03557"},
      {"t":"2026-04-05T08:24Z","p":0.03394,"label":"0.03394"},
      {"t":"2026-04-05T08:24Z","p":0.03167,"label":"0.03192"},
      {"t":"2026-04-05T08:24Z","p":0.03013,"label":"0.03013"},
      {"t":"2026-04-05T08:24Z","p":0.02908,"label":"0.02908"}
    ]
  },
  "layer": [
    {
      "data": {"name": "levels"},
      "mark": {"type": "rule", "color": "#81c784", "strokeWidth": 1.3},
      "encoding": {
        "x": {
          "field": "t", "type": "temporal", "title": null,
          "scale": {"type": "utc", "domain": ["2026-03-13T06:26Z", "2026-04-06T00:20Z"], "nice": false, "padding": 0},
          "axis": {
            "orient": "bottom", "offset": -28, "grid": false, "ticks": false,
            "domainColor": "#6c8a90", "domainWidth": 2, "labelColor": "#131722", "labelFontSize": 12,
            "labelPadding": 9, "labelFlush": false, "labelOverlap": false,
            "values": ["2026-03-15T00:00Z","2026-03-17T00:00Z","2026-03-19T00:00Z","2026-03-21T00:00Z","2026-03-23T00:00Z","2026-03-25T00:00Z","2026-03-27T00:00Z","2026-03-29T00:00Z","2026-04-01T00:00Z","2026-04-03T00:00Z"],
            "labelExpr": "utcdate(datum.value) === 1 ? 'Apr' : utcdate(datum.value)"
          }
        },
        "x2": {"field": "t2"},
        "y": {
          "field": "p", "type": "quantitative", "title": null,
          "scale": {"type": "log", "domain": [0.02503, 0.04358], "nice": false},
          "axis": {
            "orient": "right", "offset": -52, "grid": false, "ticks": false, "domain": false,
            "labelColor": "#131722", "labelFontSize": 12, "labelPadding": 0, "labelOverlap": false, "labelFlush": false,
            "format": ".5f", "values": [0.042, 0.038, 0.036, 0.0305, 0.0275, 0.0265]
          }
        }
      }
    },
    {
      "data": {"values": [
        {"t":"2026-03-13T06:26Z","t2":"2026-04-04T18:50Z","p":0.03286}
      ]},
      "mark": {"type": "rule", "color": "#5f9a78", "strokeWidth": 1, "strokeDash": [1, 2]},
      "encoding": {
        "x": {"field": "t", "type": "temporal"},
        "x2": {"field": "t2"},
        "y": {"field": "p", "type": "quantitative"}
      }
    },
    {
      "data": {"name": "candles"},
      "mark": {"type": "rule", "strokeWidth": 1, "opacity": 0.55},
      "encoding": {
        "x": {"field": "t", "type": "temporal"},
        "y": {"field": "l", "type": "quantitative"},
        "y2": {"field": "h"},
        "color": {"condition": {"test": "datum.c >= datum.o", "value": "#0e8f72"}, "value": "#f0364a"}
      }
    },
    {
      "data": {"name": "candles"},
      "mark": {"type": "bar", "size": 2},
      "encoding": {
        "x": {"field": "t", "type": "temporal"},
        "y": {"field": "o", "type": "quantitative"},
        "y2": {"field": "c"},
        "color": {"condition": {"test": "datum.c >= datum.o", "value": "#0b7d60"}, "value": "#ee2438"}
      }
    },
    {
      "data": {"values": [
        {"t":"2026-03-25T09:20Z","p":0.04},
        {"t":"2026-03-31T16:20Z","p":0.03013}
      ]},
      "mark": {"type": "line", "color": "#3a4a4c", "strokeWidth": 1.1},
      "encoding": {
        "x": {"field": "t", "type": "temporal"},
        "y": {"field": "p", "type": "quantitative"}
      }
    },
    {
      "data": {"name": "tags"},
      "mark": {"type": "tick", "orient": "horizontal", "size": 56, "thickness": 18, "color": "#4caf50", "opacity": 1, "cornerRadius": 1},
      "encoding": {
        "x": {"field": "t", "type": "temporal"},
        "y": {"field": "p", "type": "quantitative"}
      }
    },
    {
      "data": {"values": [{"t":"2026-04-05T08:24Z","p":0.03259}]},
      "mark": {"type": "tick", "orient": "horizontal", "size": 56, "thickness": 32, "color": "#1b5e20", "opacity": 1},
      "encoding": {
        "x": {"field": "t", "type": "temporal"},
        "y": {"field": "p", "type": "quantitative"}
      }
    },
    {
      "data": {"name": "tags"},
      "mark": {"type": "text", "align": "left", "baseline": "middle", "color": "#ffffff", "fontSize": 12, "dx": -19},
      "encoding": {
        "x": {"field": "t", "type": "temporal"},
        "y": {"field": "p", "type": "quantitative"},
        "text": {"field": "label"}
      }
    },
    {
      "data": {"values": [
        {"t":"2026-04-05T08:24Z","p":0.03286,"label":"0.03286"}
      ]},
      "mark": {"type": "text", "align": "left", "baseline": "middle", "color": "#ffffff", "fontSize": 12, "dx": -19},
      "encoding": {
        "x": {"field": "t", "type": "temporal"},
        "y": {"field": "p", "type": "quantitative"},
        "text": {"field": "label"}
      }
    },
    {
      "data": {"values": [
        {"t":"2026-04-05T08:24Z","p":0.03227,"label":"44:15"}
      ]},
      "mark": {"type": "text", "align": "left", "baseline": "middle", "color": "#a9c7ab", "fontSize": 12, "dx": -19},
      "encoding": {
        "x": {"field": "t", "type": "temporal"},
        "y": {"field": "p", "type": "quantitative"},
        "text": {"field": "label"}
      }
    },
    {
      "data": {"values": [{"t":"2026-04-05T08:24Z","p":0.0427}]},
      "mark": {"type": "tick", "orient": "horizontal", "size": 60, "thickness": 30, "color": "#b2ebf2", "opacity": 1},
      "encoding": {
        "x": {"field": "t", "type": "temporal"},
        "y": {"field": "p", "type": "quantitative"}
      }
    },
    {
      "data": {"values": [{"t":"2026-04-05T08:24Z","p":0.0427}]},
      "mark": {"type": "tick", "orient": "horizontal", "size": 53, "thickness": 25, "color": "#ffffff", "opacity": 1, "cornerRadius": 4},
      "encoding": {
        "x": {"field": "t", "type": "temporal"},
        "y": {"field": "p", "type": "quantitative"}
      }
    },
    {
      "data": {"values": [{"t":"2026-04-05T08:24Z","p":0.0427,"label":"USDT"}]},
      "mark": {"type": "text", "align": "center", "baseline": "middle", "color": "#131722", "fontSize": 12, "dx": -1},
      "encoding": {
        "x": {"field": "t", "type": "temporal"},
        "y": {"field": "p", "type": "quantitative"},
        "text": {"field": "label"}
      }
    },
    {
      "data": {"values": [
        {"t":"2026-03-13T10:18Z","p":0.0428,"label":"KAS / TetherUS PERPETUAL CONTRACT · 1h · Binance"},
        {"t":"2026-03-19T08:54Z","p":0.0428,"label":"O"},
        {"t":"2026-03-20T12:27Z","p":0.0428,"label":"H"},
        {"t":"2026-03-21T16:29Z","p":0.0428,"label":"L"},
        {"t":"2026-03-22T19:33Z","p":0.0428,"label":"C"}
      ]},
      "mark": {"type": "text", "align": "left", "baseline": "middle", "color": "#131722", "fontSize": 11.7},
      "encoding": {
        "x": {"field": "t", "type": "temporal"},
        "y": {"field": "p", "type": "quantitative"},
        "text": {"field": "label"}
      }
    },
    {
      "data": {"values": [
        {"t":"2026-03-19T12:46Z","p":0.0428,"label":"0.03279"},
        {"t":"2026-03-20T16:19Z","p":0.0428,"label":"0.03293"},
        {"t":"2026-03-21T19:23Z","p":0.0428,"label":"0.03277"},
        {"t":"2026-03-22T23:26Z","p":0.0428,"label":"0.03286"},
        {"t":"2026-03-23T22:37Z","p":0.0428,"label":"+0.00007 (+0.21%)"}
      ]},
      "mark": {"type": "text", "align": "left", "baseline": "middle", "color": "#089981", "fontSize": 11.7},
      "encoding": {
        "x": {"field": "t", "type": "temporal"},
        "y": {"field": "p", "type": "quantitative"},
        "text": {"field": "label"}
      }
    },
    {
      "data": {"values": [{"t":"2026-04-02T12:43Z","p":0.02828}]},
      "mark": {"type": "tick", "orient": "horizontal", "size": 12, "thickness": 12, "fill": "#b2ebf2", "stroke": "#5b8def", "strokeWidth": 1.3, "opacity": 1, "cornerRadius": 3},
      "encoding": {
        "x": {"field": "t", "type": "temporal"},
        "y": {"field": "p", "type": "quantitative"}
      }
    },
    {
      "data": {"values": [{"t":"2026-03-29T17:20Z","p":0.02627}]},
      "mark": {"type": "point", "shape": "circle", "filled": true, "size": 480, "color": "#ffffff", "opacity": 1},
      "encoding": {
        "x": {"field": "t", "type": "temporal"},
        "y": {"field": "p", "type": "quantitative"}
      }
    },
    {
      "data": {"values": [{"t":"2026-03-29T17:20Z","p":0.02627}]},
      "mark": {"type": "point", "shape": "circle", "filled": false, "size": 300, "stroke": "#9c27b0", "strokeWidth": 1.6, "opacity": 1},
      "encoding": {
        "x": {"field": "t", "type": "temporal"},
        "y": {"field": "p", "type": "quantitative"}
      }
    },
    {
      "data": {"values": [{"t":"2026-03-29T17:20Z","p":0.02627}]},
      "mark": {"type": "point", "shape": "M0.3,-1L-0.6,0.15H-0.05L-0.3,1L0.6,-0.2H0.05Z", "filled": true, "size": 130, "color": "#9c27b0", "opacity": 1},
      "encoding": {
        "x": {"field": "t", "type": "temporal"},
        "y": {"field": "p", "type": "quantitative"}
      }
    },
    {
      "data": {"values": [{"t":"2026-03-13T14:36Z","p":0.0242}]},
      "mark": {"type": "point", "shape": "M-1,-0.5H0V0.5H-0.55V-0.03H-1ZM0.53,-0.25A0.2,0.2 0 1 1 0.13,-0.25A0.2,0.2 0 1 1 0.53,-0.25ZM0.6,-0.5H1L0.55,0.5H0.1Z", "filled": true, "size": 900, "color": "#dcdcdc", "opacity": 1},
      "encoding": {
        "x": {"field": "t", "type": "temporal"},
        "y": {"field": "p", "type": "quantitative"}
      }
    },
    {
      "data": {"values": [{"t":"2026-03-14T01:48Z","p":0.0242,"label":"TradingView"}]},
      "mark": {"type": "text", "align": "left", "baseline": "middle", "color": "#dcdcdc", "fontSize": 20, "fontWeight": 600, "font": "Inter"},
      "encoding": {
        "x": {"field": "t", "type": "temporal"},
        "y": {"field": "p", "type": "quantitative"},
        "text": {"field": "label"}
      }
    }
  ]
}
